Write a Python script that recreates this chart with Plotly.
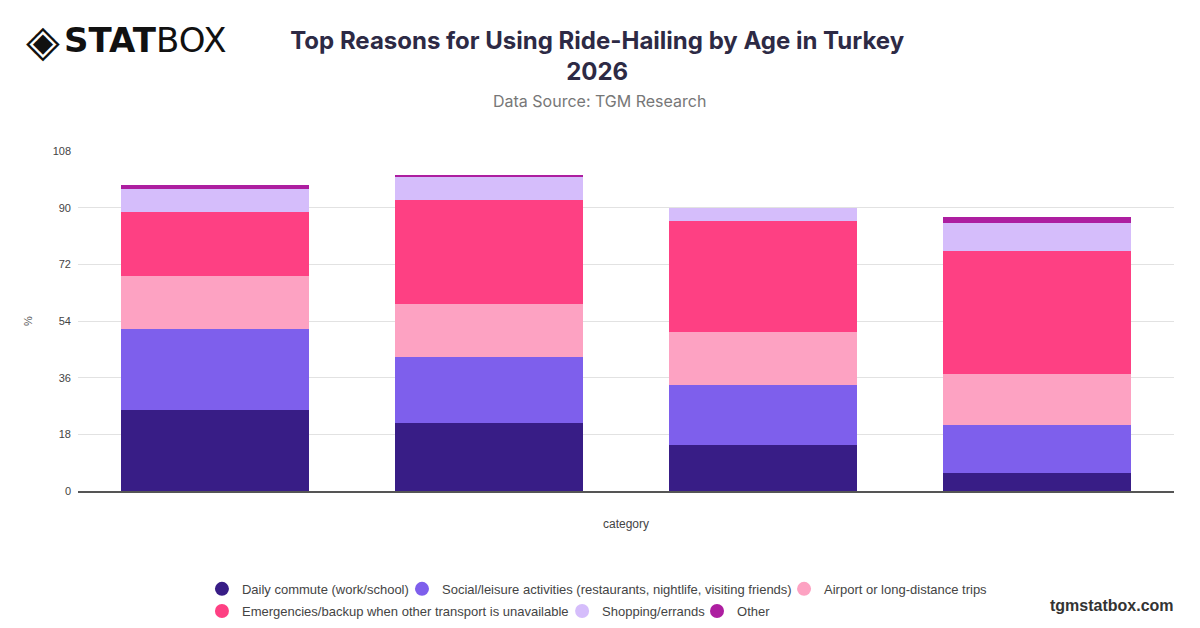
import plotly.graph_objects as go

# age groups (tick labels are hidden in the chart)
categories = ["18-24", "25-34", "35-44", "45+"]

daily_commute = [25.7, 21.7, 14.5, 5.6]
social_leisure = [25.9, 21.0, 19.1, 15.4]
airport_trips = [16.8, 16.7, 16.9, 16.2]
emergencies = [20.3, 33.0, 35.3, 38.9]
shopping = [7.3, 7.2, 4.2, 9.1]
other = [1.1, 0.7, 0.0, 1.7]

series_names = [
    "Daily commute (work/school)",
    "Social/leisure activities (restaurants, nightlife, visiting friends)",
    "Airport or long-distance trips",
    "Emergencies/backup when other transport is unavailable",
    "Shopping/errands",
    "Other",
]
series_values = [daily_commute, social_leisure, airport_trips, emergencies, shopping, other]
colors = ["#381d86", "#7e5fec", "#fda2c2", "#fe4083", "#d5bdfb", "#ad1ea0"]

y_ticks = [0, 18, 36, 54, 72, 90, 108]

fig = go.Figure()

for name, vals, col in zip(series_names, series_values, colors):
    fig.add_trace(go.Bar(
        x=categories,
        y=vals,
        name=name,
        marker=dict(color=col, line=dict(width=0)),
        showlegend=False,
    ))

# round legend markers, one small legend per entry so spacing matches the original
legend_ids = ["legend", "legend2", "legend3", "legend4", "legend5", "legend6"]
legend_x = [0.1131, 0.2956, 0.6442, 0.1131, 0.4417, 0.5648]
legend_y = [-0.288, -0.288, -0.288, -0.353, -0.353, -0.353]

for lid, name, col in zip(legend_ids, series_names, colors):
    fig.add_trace(go.Scatter(
        x=[None], y=[None],
        mode="markers",
        name=name,
        legend=lid,
        marker=dict(color=col, size=14, symbol="circle"),
    ))

legend_style = dict(
    orientation="h",
    xanchor="left",
    yanchor="middle",
    font=dict(family="Liberation Sans, Arial, sans-serif", size=13, color="#444"),
    bgcolor="rgba(0,0,0,0)",
)
legends = {lid: dict(legend_style, x=lx, y=ly) for lid, lx, ly in zip(legend_ids, legend_x, legend_y)}

# page has an 8px body margin, so margins are shifted to compensate
fig.update_layout(
    barmode="stack",
    bargap=0.314,
    width=1200,
    height=628,
    paper_bgcolor="white",
    plot_bgcolor="white",
    margin=dict(l=70, r=34, t=143, b=145, autoexpand=False),
    font=dict(family="Liberation Sans, Arial, sans-serif", size=12, color="#444"),
    title=dict(
        text="<b>Top Reasons for Using Ride-Hailing by Age in Turkey<br>2026</b>",
        x=0.491, xanchor="center",
        y=0.935, yanchor="middle",
        font=dict(family="Inter, sans-serif", size=24, color="#2d2a45"),
    ),
    xaxis=dict(
        showticklabels=False,
        title=dict(text="category", font=dict(size=12, color="#444"), standoff=28),
        showline=True,
        linecolor="#555",
        linewidth=1.5,
        ticks="",
    ),
    yaxis=dict(
        range=[0, 108],
        tickvals=y_ticks,
        tickfont=dict(size=11, color="#444"),
        ticklabelstandoff=6,
        gridcolor="#e2e2e2",
        zeroline=False,
        title=dict(text="%", font=dict(size=11, color="#555"), standoff=17),
        ticks="",
    ),
    **legends,
)

fig.add_annotation(
    text="Data Source: TGM Research",
    xref="paper", yref="paper",
    x=0.476, y=1.147, xanchor="center", yanchor="middle",
    showarrow=False,
    font=dict(family="Inter, sans-serif", size=16, color="#777"),
)

# logo
fig.add_annotation(
    text="◈",
    xref="paper", yref="paper",
    x=-0.049, y=1.326, xanchor="left", yanchor="middle",
    showarrow=False,
    font=dict(family="DejaVu Sans, sans-serif", size=44, color="#111"),
)
fig.add_annotation(
    text="<b>STAT</b>BOX",
    xref="paper", yref="paper",
    x=-0.0146, y=1.326, xanchor="left", yanchor="middle",
    showarrow=False,
    font=dict(family="DejaVu Sans, sans-serif", size=34, color="#111"),
)

fig.add_annotation(
    text="<b>tgmstatbox.com</b>",
    xref="paper", yref="paper",
    x=1.002, y=-0.338, xanchor="right", yanchor="middle",
    showarrow=False,
    font=dict(family="Liberation Sans, Arial, sans-serif", size=16, color="#333"),
)

fig.write_html("out.html")
